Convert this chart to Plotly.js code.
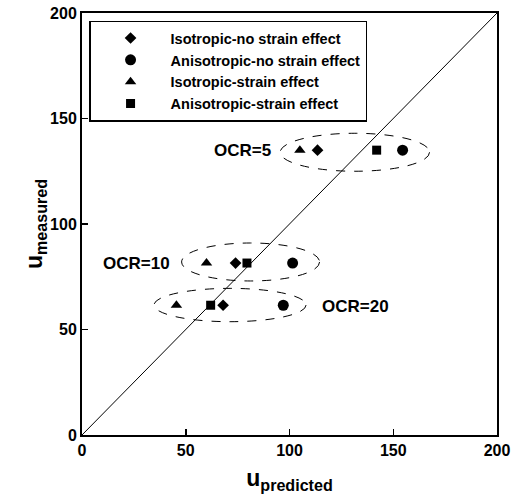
<!DOCTYPE html>
<html>
<head>
<meta charset="utf-8">
<script src="https://cdn.plot.ly/plotly-3.0.1.min.js"></script>
<style>html,body{margin:0;padding:0;background:#fff;}#chart{width:512px;height:499px;}</style>
</head>
<body>
<div id="chart"></div>
<script>
// Data (u_predicted, u_measured)
const seriesNames = ["Isotropic-no strain effect", "Anisotropic-no strain effect", "Isotropic-strain effect", "Anisotropic-strain effect"];
const isoNoStrainX = [113.5, 74, 68];
const isoNoStrainY = [135, 81.5, 61.5];
const anisoNoStrainX = [154.5, 101.5, 97];
const anisoNoStrainY = [135, 81.5, 61.5];
const isoStrainX = [105, 60, 45.5];
const isoStrainY = [135, 81.5, 61.5];
const anisoStrainX = [142, 79.5, 62];
const anisoStrainY = [135, 81.5, 61.5];
const ocrLabels = ["OCR=5", "OCR=10", "OCR=20"];
const ocrLabelX = [77.5, 26.5, 132];
const ocrLabelY = [135, 81.5, 61];
// ellipse extents [x0, x1, y0, y1]
const ocrGroups = [[95.5, 167.5, 125, 143], [48, 114.5, 73, 91], [34.7, 108, 53.7, 69.5]];
const lineX = [0, 200];
const lineY = [0, 200];
const tickVals = [0, 50, 100, 150, 200];
const tickText = ["0", "50", "100", "150", "200"];

const FONT = "Liberation Sans, Arial, sans-serif";
const traces = [
  {x: lineX, y: lineY, mode: "lines", line: {color: "black", width: 1}, showlegend: false, hoverinfo: "skip"},
  {x: isoNoStrainX, y: isoNoStrainY, mode: "markers", name: seriesNames[0], marker: {symbol: "diamond", size: 9, color: "black"}},
  {x: anisoNoStrainX, y: anisoNoStrainY, mode: "markers", name: seriesNames[1], marker: {symbol: "circle", size: 11, color: "black"}},
  {x: isoStrainX, y: isoStrainY, mode: "markers", name: seriesNames[2], marker: {symbol: "triangle-up", size: 10, color: "black"}},
  {x: anisoStrainX, y: anisoStrainY, mode: "markers", name: seriesNames[3], marker: {symbol: "square", size: 9, color: "black"}}
];

const shapes = ocrGroups.map(g => ({
  type: "circle", xref: "x", yref: "y", x0: g[0], x1: g[1], y0: g[2], y1: g[3],
  line: {color: "black", width: 1, dash: "dash"}
}));
const annotations = ocrLabels.map((t, i) => ({
  x: ocrLabelX[i], y: ocrLabelY[i], xref: "x", yref: "y", text: "<b>" + t + "</b>",
  showarrow: false, font: {family: FONT, size: 17, color: "black"}
}));

const axisBase = {
  range: [0, 200], tickvals: tickVals, ticktext: tickText.map(t => "<b>" + t + "</b>"),
  ticks: "inside", ticklen: 6, tickwidth: 1.5, tickcolor: "black",
  showline: true, linecolor: "black", linewidth: 2, mirror: true, showgrid: false, zeroline: false,
  tickfont: {family: FONT, size: 16, color: "black"}
};

const layout = {
  width: 512, height: 499,
  margin: {l: 82, r: 15, t: 13, b: 64},
  paper_bgcolor: "white", plot_bgcolor: "white",
  font: {family: FONT, color: "black"},
  xaxis: Object.assign({}, axisBase, {
    title: {text: "<b>u<sub>predicted</sub></b>", font: {family: FONT, size: 23, color: "black"}, standoff: 12}
  }),
  yaxis: Object.assign({}, axisBase, {
    title: {text: "<b>u<sub>measured</sub></b>", font: {family: FONT, size: 23, color: "black"}, standoff: 0}
  }),
  showlegend: true,
  legend: {
    x: 0.017, y: 0.982, xanchor: "left", yanchor: "top",
    bgcolor: "white", bordercolor: "black", borderwidth: 1.5,
    font: {family: FONT, size: 14.5, color: "black", weight: "bold"},
    itemwidth: 70
  },
  shapes: shapes,
  annotations: annotations
};

Plotly.newPlot("chart", traces, layout, {displayModeBar: false, staticPlot: true});
</script>
</body>
</html>
